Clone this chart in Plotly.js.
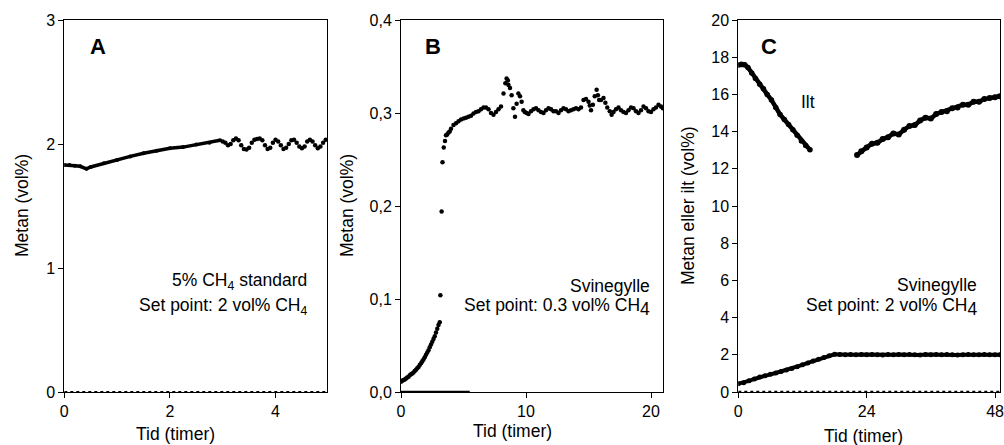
<!DOCTYPE html>
<html>
<head>
<meta charset="utf-8">
<script src="https://cdn.plot.ly/plotly-3.0.1.min.js"></script>
<style>html,body{margin:0;padding:0;background:#fff;}#plot{width:1004px;height:445px;}</style>
</head>
<body>
<div id="plot"></div>
<script>
// ---------- Panel A: 5% CH4 standard ----------
const aSmoothX = [0, 0.1, 0.2, 0.3, 0.42, 0.5, 0.75, 1.0, 1.25, 1.5, 1.75, 2.0, 2.25, 2.5, 2.75, 2.95];
const aSmoothY = [1.83, 1.83, 1.825, 1.82, 1.80, 1.815, 1.845, 1.87, 1.90, 1.925, 1.945, 1.965, 1.975, 1.995, 2.01, 2.03];
const aOscX = [3.00, 3.05, 3.10, 3.15, 3.20, 3.25, 3.30, 3.35, 3.40, 3.45, 3.50, 3.55, 3.60, 3.65, 3.70, 3.75, 3.80, 3.85, 3.90, 3.95,
               4.00, 4.05, 4.10, 4.15, 4.20, 4.25, 4.30, 4.35, 4.40, 4.45, 4.50, 4.55, 4.60, 4.65, 4.70, 4.75, 4.80, 4.85, 4.90, 4.95];
const aOscY = [2.02, 2.01, 1.99, 2.00, 2.03, 2.045, 2.03, 1.99, 1.96, 1.955, 1.97, 2.01, 2.035, 2.04, 2.045, 2.03, 1.99, 1.96, 1.97, 2.01,
               2.035, 2.02, 1.99, 1.96, 1.97, 2.00, 2.03, 2.035, 2.01, 1.98, 1.965, 1.98, 2.02, 2.035, 2.02, 1.99, 1.965, 1.98, 2.01, 2.035];
const aZeroX = [0, 4.98];
const aZeroY = [0, 0];

// ---------- Panel B: Svinegylle, set point 0.3 ----------
const bX = [0.0, 0.1, 0.2, 0.3, 0.4, 0.5, 0.6, 0.7, 0.8, 0.9, 1.0, 1.1, 1.2, 1.3, 1.4, 1.5, 1.6, 1.7, 1.8, 1.9,
            2.0, 2.1, 2.2, 2.3, 2.4, 2.5, 2.6, 2.7, 2.8, 2.9, 3.0, 3.1,
            3.15, 3.25, 3.32, 3.42, 3.52, 3.6, 3.7, 3.8, 3.9, 4.0, 4.2, 4.4, 4.6, 4.8, 5.0, 5.2, 5.4, 5.6, 5.8,
            6.0, 6.2, 6.4, 6.6, 6.8, 7.0, 7.2, 7.4, 7.6, 7.8, 8.0, 8.2, 8.35, 8.45, 8.55, 8.6, 8.72, 8.85, 8.99,
            9.12, 9.25, 9.39, 9.52, 9.65, 9.79, 9.9, 10.05, 10.2, 10.4, 10.6, 10.8, 11.0, 11.2, 11.4, 11.6, 11.8,
            12.0, 12.2, 12.4, 12.6, 12.8, 13.0, 13.2, 13.4, 13.6, 13.8, 14.0, 14.2, 14.4, 14.6, 14.8, 15.0, 15.1,
            15.2, 15.35, 15.5, 15.65, 15.75, 15.85, 16.0, 16.2, 16.35, 16.5, 16.7, 16.85, 17.0, 17.2, 17.4, 17.6,
            17.8, 18.0, 18.2, 18.4, 18.6, 18.8, 19.0, 19.2, 19.4, 19.6, 19.8, 20.0, 20.2, 20.4, 20.6, 20.8, 20.95];
const bY = [0.011, 0.012, 0.013, 0.0135, 0.0145, 0.0155, 0.0165, 0.018, 0.019, 0.020, 0.021, 0.0225, 0.024, 0.0255, 0.027, 0.029, 0.031, 0.033, 0.035, 0.0375,
            0.040, 0.0425, 0.045, 0.048, 0.051, 0.054, 0.057, 0.060, 0.064, 0.068, 0.072, 0.075,
            0.104, 0.194, 0.247, 0.263, 0.270, 0.276, 0.277, 0.279, 0.280, 0.283, 0.287, 0.289, 0.291, 0.293, 0.294, 0.295, 0.296, 0.297, 0.2995,
            0.301, 0.302, 0.304, 0.306, 0.306, 0.304, 0.300, 0.298, 0.301, 0.304, 0.307, 0.321, 0.332, 0.337, 0.335, 0.330, 0.327, 0.319, 0.305,
            0.296, 0.310, 0.321, 0.318, 0.312, 0.303, 0.301, 0.300, 0.299, 0.302, 0.304, 0.305, 0.303, 0.301, 0.300, 0.303, 0.305,
            0.304, 0.302, 0.302, 0.300, 0.303, 0.305, 0.304, 0.302, 0.303, 0.304, 0.305, 0.304, 0.306, 0.314, 0.315, 0.312, 0.308,
            0.303, 0.309, 0.318, 0.325, 0.319, 0.314, 0.314, 0.316, 0.311, 0.306, 0.302, 0.298, 0.301, 0.304, 0.306, 0.303,
            0.301, 0.300, 0.303, 0.306, 0.305, 0.302, 0.300, 0.303, 0.307, 0.305, 0.302, 0.301, 0.304, 0.306, 0.309, 0.307, 0.305];
const bZeroX = [0, 5.5];
const bZeroY = [0, 0];

// ---------- Panel C: Svinegylle, set point 2 ----------
const cIlt1X = [0, 0.6, 1.2, 1.8, 2.5, 3.2, 4.0, 4.7, 5.4, 6.2, 7.0, 7.8, 8.6, 9.4, 10.2, 11.0, 11.8, 12.6, 13.4];
const cIlt1Y = [17.58, 17.62, 17.6, 17.45, 17.15, 16.85, 16.55, 16.3, 16.0, 15.7, 15.3, 14.92, 14.65, 14.38, 14.1, 13.8, 13.5, 13.25, 13.02];
const cIlt2X = [22.2, 23.0, 24.0, 25.0, 26.0, 27.0, 28.0, 29.0, 30.0, 31.0, 32.0, 33.0, 34.0, 35.0, 36.0, 37.0, 38.0, 39.0, 40.0,
                41.0, 42.0, 43.0, 44.0, 45.0, 46.0, 47.0, 48.0, 48.9];
const cIlt2Y = [12.74, 12.95, 13.15, 13.35, 13.4, 13.6, 13.7, 13.9, 13.85, 14.1, 14.3, 14.35, 14.6, 14.75, 14.7, 14.95, 15.05, 15.1, 15.25,
                15.3, 15.45, 15.45, 15.6, 15.6, 15.75, 15.8, 15.85, 15.9];
const cMetX = [0, 1, 2, 3, 4, 5, 6, 7, 8, 9, 10, 11, 12, 13, 14, 15, 16, 17, 18, 19, 20, 21, 22, 23, 24, 25, 26, 27, 28, 29,
               30, 31, 32, 33, 34, 35, 36, 37, 38, 39, 40, 41, 42, 43, 44, 45, 46, 47, 48, 48.9];
const cMetY = [0.45, 0.5, 0.6, 0.7, 0.8, 0.88, 0.95, 1.02, 1.1, 1.18, 1.26, 1.36, 1.46, 1.56, 1.66, 1.76, 1.86, 1.95, 2.03, 2.02, 2.0, 2.02, 2.0, 2.01, 2.0, 2.02, 2.0, 1.99, 2.01, 2.0,
               2.02, 2.0, 2.01, 2.0, 1.99, 2.01, 2.0, 2.02, 2.0, 2.01, 2.0, 1.99, 2.0, 2.01, 2.0, 2.0, 2.01, 2.0, 2.0, 2.0];
const cZeroX = [0, 48.93];
const cZeroY = [0, 0];

// tick labels
const aTicks = [0, 2, 4];
const bTicks = [0, 10, 20];
const cTicks = [0, 24, 48];

const W = 1004, H = 445;
const px = v => v / W;
const py = v => (H - v) / H;
const FONT = 'Arial, "Liberation Sans", sans-serif';
const TXT = 17.5;

const dot = (x, y, xa, ya, size) => ({x, y, xaxis: xa, yaxis: ya, mode: 'markers', type: 'scatter',
  marker: {color: '#000', size: size}, hoverinfo: 'skip'});
const ln = (x, y, xa, ya, w, size, dash) => ({x, y, xaxis: xa, yaxis: ya, mode: size ? 'lines+markers' : 'lines', type: 'scatter',
  line: {color: '#000', width: w, dash: dash || 'solid'}, marker: {color: '#000', size: size || 1}, hoverinfo: 'skip'});

const traces = [
  ln(aZeroX, aZeroY, 'x', 'y', 2, 0, 'dot'),
  ln(aSmoothX, aSmoothY, 'x', 'y', 3.5, 4),
  dot(aOscX, aOscY, 'x', 'y', 4.5),
  ln(bZeroX, bZeroY, 'x2', 'y2', 2.5, 0),
  dot(bX, bY, 'x2', 'y2', 4.5),
  ln(cZeroX, cZeroY, 'x3', 'y3', 2.5, 0, 'dot'),
  ln(cIlt1X, cIlt1Y, 'x3', 'y3', 4.5, 5.5),
  ln(cIlt2X, cIlt2Y, 'x3', 'y3', 4.5, 6),
  ln(cMetX, cMetY, 'x3', 'y3', 4, 5)
];

const yDom = [py(392), py(20)];
const axBase = {showline: true, linecolor: '#000', linewidth: 1, mirror: true, ticks: 'outside', ticklen: 5,
  tickcolor: '#000', showgrid: false, zeroline: false, ticklabeloverflow: 'allow',
  tickfont: {family: FONT, size: 16, color: '#000'}, fixedrange: true};

const layout = {
  width: W, height: H,
  margin: {l: 0, r: 0, t: 0, b: 0},
  paper_bgcolor: '#fff', plot_bgcolor: '#fff',
  showlegend: false,
  separators: ',.',
  font: {family: FONT, color: '#000', size: TXT},
  xaxis: Object.assign({}, axBase, {domain: [px(64.3), px(327.3)], range: [0, 4.98], tickvals: aTicks, anchor: 'y'}),
  yaxis: Object.assign({}, axBase, {domain: yDom, range: [0, 3], dtick: 1, tick0: 0, anchor: 'x'}),
  xaxis2: Object.assign({}, axBase, {domain: [px(401), px(663)], range: [0, 20.96], tickvals: bTicks, anchor: 'y2'}),
  yaxis2: Object.assign({}, axBase, {domain: yDom, range: [0, 0.4], dtick: 0.1, tick0: 0, tickformat: '.1f', anchor: 'x2'}),
  xaxis3: Object.assign({}, axBase, {domain: [px(738.3), px(1000)], range: [0, 48.93], tickvals: cTicks, anchor: 'y3'}),
  yaxis3: Object.assign({}, axBase, {domain: yDom, range: [0, 20], dtick: 2, tick0: 0, anchor: 'x3'}),
  annotations: []
};

function ann(text, x, y, opts) {
  layout.annotations.push(Object.assign({text, x: px(x), y: py(y), xref: 'paper', yref: 'paper', showarrow: false,
    xanchor: 'center', yanchor: 'middle', font: {family: FONT, size: TXT, color: '#000'}}, opts || {}));
}
const big = {family: FONT, size: 22, color: '#000'};
// panel letters
ann('<b>A</b>', 98, 46, {font: big});
ann('<b>B</b>', 433, 46, {font: big});
ann('<b>C</b>', 769, 46, {font: big});
// axis titles
ann('Metan (vol%)', 22, 206, {textangle: -90});
ann('Metan (vol%)', 347, 206, {textangle: -90});
ann('Metan eller ilt (vol%)', 688, 206, {textangle: -90});
ann('Tid (timer)', 175, 434);
ann('Tid (timer)', 512, 431);
ann('Tid (timer)', 863, 436);
// panel texts
ann('5% CH<sub>4</sub> standard', 309, 281, {xanchor: 'right'});
ann('Set point: 2 vol% CH<sub>4</sub>', 309, 306, {xanchor: 'right'});
ann('Svinegylle', 652, 286, {xanchor: 'right'});
ann('Set point: 0.3 vol% CH<sub><span style="font-size:17.5px">4</span></sub>', 652, 307, {xanchor: 'right'});
ann('Svinegylle', 979, 285, {xanchor: 'right'});
ann('Set point: 2 vol% CH<sub><span style="font-size:17.5px">4</span></sub>', 979, 307, {xanchor: 'right'});
ann('Ilt', 808, 102);

Plotly.newPlot('plot', traces, layout, {staticPlot: true, displayModeBar: false});
</script>
</body>
</html>
